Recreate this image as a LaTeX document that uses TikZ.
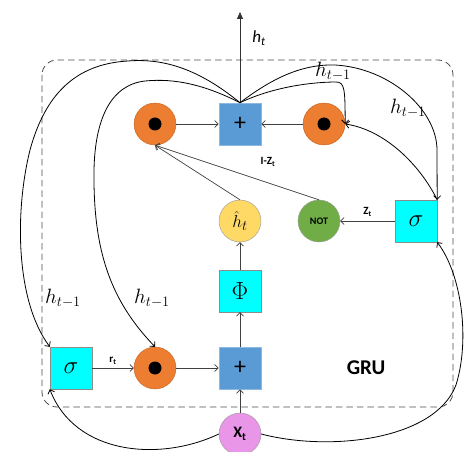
\documentclass[tikz,border=0pt]{standalone}
\usepackage{fontspec}
\usetikzlibrary{arrows.meta}
\newfontfamily\carl{Carlito}
\definecolor{dotorange}{RGB}{237,125,49}
\definecolor{plusblue}{RGB}{91,155,213}
\definecolor{gatecyan}{RGB}{0,255,255}
\definecolor{candyellow}{RGB}{255,217,102}
\definecolor{notgreen}{RGB}{112,173,71}
\definecolor{inpink}{RGB}{233,150,232}
\tikzset{
  dotnode/.style={circle, fill=dotorange, draw=dotorange!80!black, line width=0.4pt,
    minimum size=42pt, inner sep=0pt,
    path picture={\fill[black] (path picture bounding box.center) circle (6.5pt);}},
  plusbox/.style={rectangle, fill=plusblue, draw=plusblue!70!white, line width=0.6pt,
    minimum size=42pt, inner sep=0pt, font=\carl\fontsize{24}{26}\selectfont},
  gatebox/.style={rectangle, fill=gatecyan, draw=black!45, line width=0.4pt,
    minimum size=42pt, inner sep=0pt, font=\fontsize{23}{25}\selectfont},
  roundnode/.style={circle, draw=black!40, line width=0.4pt, minimum size=42pt, inner sep=0pt},
  arr/.style={draw=black!75, line width=0.7pt, -{Straight Barb[length=3.5pt,width=7pt]}},
  loop/.style={draw=black, line width=0.8pt, -{Straight Barb[length=3.5pt,width=7pt]}},
  hprev/.style={font=\fontsize{20}{22}\selectfont},
  tag/.style={font=\carl\bfseries\fontsize{11}{12}\selectfont}
}
\begin{document}
\begin{tikzpicture}[x=1pt,y=-1pt]
\useasboundingbox (0,0) rectangle (464,452);

% cell boundary
\draw[black!70, line width=0.8pt, dash pattern=on 6.5pt off 4pt, rounded corners=15pt]
  (42,60) rectangle (453,407);

% top row
\node[dotnode] (o1) at (155,124) {};
\node[plusbox] (p1) at (240,124) {+};
\node[dotnode] (o2) at (324,124) {};
\coordinate (out) at (240,12);

% middle row
\node[roundnode, fill=candyellow, font=\fontsize{19}{21}\selectfont] (hh) at (240,221) {$\hat{h}_t$};
\node[roundnode, fill=notgreen, font=\carl\bfseries\fontsize{10}{11}\selectfont] (not) at (319,221) {NOT};
\node[gatebox] (s2) at (416,221) {$\sigma$};
\node[gatebox] (phi) at (240,291) {$\Phi$};

% bottom row
\node[gatebox] (s1) at (71,368) {$\sigma$};
\node[dotnode] (o3) at (155,368) {};
\node[plusbox] (p2) at (240,368) {+};
\node[roundnode, fill=inpink, font=\carl\bfseries\fontsize{16}{18}\selectfont] (x) at (240,434) {X\textsubscript{t}};

\node[font=\carl\bfseries\fontsize{21}{24}\selectfont] (gru) at (366,368) {GRU};

% straight connectors
\draw[arr] (o1) -- (p1);
\draw[arr] (o2) -- (p1);
\draw[arr] (hh.north) -- (o1.south);
\draw[arr] (not.north) -- (o1.south);
\draw[arr] (s2) -- (not) node[midway, above=1pt, tag] (zt) {Z\textsubscript{t}};
\draw[arr] (phi) -- (hh);
\draw[arr] (p2) -- (phi);
\draw[arr] (x) -- (p2);
\draw[arr] (s1) -- (o3) node[midway, above=0pt, tag] (rt) {r\textsubscript{t}};
\draw[arr] (o3) -- (p2);
\draw[draw=black!80, line width=0.8pt, -{Triangle[length=7pt,width=6pt]}] (p1.north) -- (out);
\node[font=\carl\itshape\fontsize{17}{19}\selectfont] (htlab) at (259,38) {h\textsubscript{\itshape t}};
\node[tag] (izt) at (268,162) {I-Z\textsubscript{t}};

% previous hidden state fed back from the top adder
\draw[loop] (p1.north) .. controls (200,70) and (165,58) .. (128,61)
  .. controls (75,64) and (45,95) .. (30,150)
  .. controls (15,210) and (15,300) .. (s1.north west);
\draw[loop] (p1.north) .. controls (205,85) and (175,78) .. (145,81)
  .. controls (110,85) and (95,120) .. (94,170)
  .. controls (93,250) and (110,300) .. (o3.north);
\draw[loop] (p1.north) .. controls (275,86) and (315,82) .. (336,82)
  .. controls (345,82) and (345,90) .. (o2.east);
\draw[loop] (p1.north) .. controls (270,80) and (300,64) .. (335,65)
  .. controls (390,68) and (437,110) .. (437,150)
  -- (s2.north east);

% update gate to right multiplier
\draw[loop] (s2.north east) .. controls (420,165) and (385,130) .. (o2.east);

% input to both gates
\draw[loop] (x.west) .. controls (160,462) and (75,455) .. (s1.south west);
\draw[loop] (x.east) .. controls (330,452) and (435,440) .. (456,385)
  .. controls (470,340) and (462,275) .. (s2.south east);

% h_{t-1} labels
\node[hprev] (l1) at (333,71) {$h_{t-1}$};
\node[hprev] (l2) at (408,108) {$h_{t-1}$};
\node[hprev] (l3) at (63,298) {$h_{t-1}$};
\node[hprev] (l4) at (152,298) {$h_{t-1}$};
\end{tikzpicture}
\end{document}
